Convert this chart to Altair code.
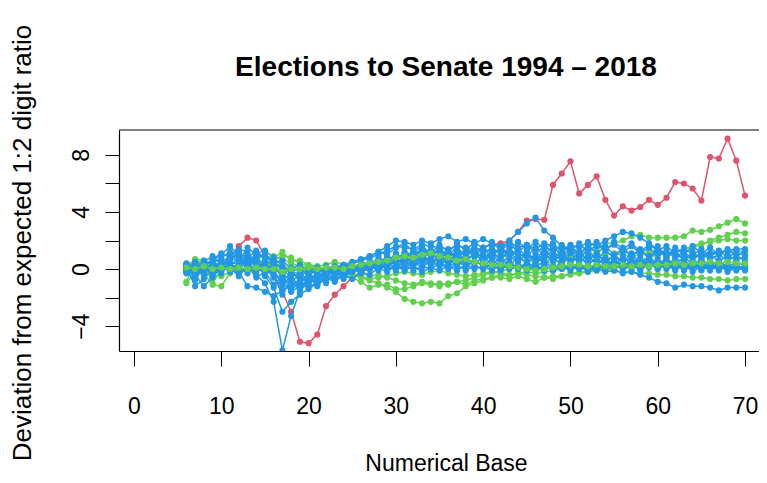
import altair as alt
import pandas as pd

# Numerical bases on the x axis
bases = list(range(6, 71))

# Deviation from expected 1:2 digit ratio, one list per election series
red_1 = [0.2, 0.0, -0.5, -0.2, 0.3,  0.8, 1.6, 2.2, 2.0, 0.9,  -0.4, -1.6, -3.0, -5.1, -5.2,
         -4.6, -2.6, -1.8, -1.2, -0.6,  -0.2, 0.0, 0.2, 0.3, 0.5,  0.6, 0.7, 0.6, 0.8, 0.9,
         1.0, 1.0, 1.2, 1.3, 1.5,  1.7, 1.8, 2.0, 2.6, 3.4,  3.5, 3.45, 5.9, 6.7, 7.55,
         5.3, 5.9, 6.5, 4.85, 3.75,  4.4, 4.1, 4.35, 4.85, 4.5,  5.0, 6.1, 6.0, 5.65, 4.8,
         7.85, 7.75, 9.15, 7.6, 5.15]

green_1 = [0.0, 0.7, 0.6, -0.2, 0.0,  0.0, -0.3, 0.0, 0.3, 0.2,  0.4, 0.2, 0.0, -0.1, 0.0,
           0.0, 0.1, 0.0, -0.2, -0.4,  -0.6, -0.8, -1.0, -1.3, -1.6,  -2.1, -2.3, -2.4, -2.3, -2.4,
           -1.9, -1.7, -1.2, -1.0, -0.8,  -0.6, -0.6, -0.7, -0.5, -0.7,  -0.9, -0.6, -0.7, -0.5, -0.3,
           -0.25, -0.1, 0.0, 0.0, 0.05,  0.2, 0.35, 0.6, 0.8, 1.0,  1.05, 1.2, 1.4, 1.6, 1.8,
           1.9, 2.0, 2.1, 2.0, 2.0]
green_2 = [-1.0, -0.2, -0.3, -1.1, -1.2,  -0.3, 0.2, 0.5, 0.7, 0.9,  0.8, 1.2, 0.6, 0.6, 0.3,
           0.2, 0.3, 0.5, 0.3, 0.2,  0.1, 0.0, 0.2, 0.3, 0.2,  0.4, 0.3, 0.5, 0.6, 0.5,
           0.6, 0.7, 0.8, 0.9, 1.0,  0.9, 1.0, 0.8, 0.7, 0.6,  0.5, 0.7, 0.9, 1.0, 1.1,
           1.1, 1.2, 1.4, 1.8, 1.8,  2.0, 2.3, 2.4, 2.2, 2.2,  2.2, 2.2, 2.3, 2.7, 2.6,
           2.75, 3.0, 3.25, 3.5, 3.2]
green_3 = [0.3, 0.6, 0.4, 0.2, 0.0,  0.1, 0.3, 0.5, 0.4, 0.6,  0.9, 0.7, 0.4, 0.2, 0.1,
           0.0, 0.1, 0.2, 0.2, 0.0,  -0.3, -0.5, -0.4, -0.6, -0.8,  -1.0, -1.1, -0.9, -1.0, -1.2,
           -1.0, -0.9, -0.8, -0.6, -0.4,  -0.3, -0.1, 0.0, 0.1, 0.2,  0.3, 0.4, 0.5, 0.6, 0.7,
           0.8, 0.9, 1.0, 1.0, 1.1,  1.0, 0.9, 1.0, 1.2, 1.1,  1.0, 1.2, 1.4, 1.5, 1.7,
           2.0, 2.2, 2.4, 2.6, 2.5]
green_4 = [-0.2, 0.3, 0.1, -0.4, -0.5,  -0.2, -0.1, 0.0, 0.2, 0.4,  0.6, 0.9, 0.8, 0.4, 0.2,
           0.1, -0.1, -0.3, -0.5, -0.6,  -0.9, -1.3, -1.1, -1.1, -1.4,  -1.4, -1.2, -1.0, -1.1, -1.0,
           -1.1, -0.9, -1.1, -0.8, -0.7,  -0.6, -0.4, -0.5, -0.3, -0.2,  -0.3, -0.2, -0.1, 0.0, 0.0,
           0.1, 0.1, 0.0, 0.0, -0.1,  -0.2, -0.2, -0.3, -0.3, -0.4,  -0.4, -0.5, -0.5, -0.6, -0.6,
           -0.7, -0.7, -0.8, -0.7, -0.7]
green_5 = [0.1, 0.0, 0.2, 0.0, 0.1,  0.0, 0.1, 0.0, 0.1, 0.0,  0.0, -0.2, 0.0, 0.0, 0.1,
           0.0, 0.1, 0.1, 0.0, 0.2,  0.3, 0.4, 0.5, 0.6, 0.8,  0.9, 0.8, 1.0, 1.1, 0.9,
           0.8, 0.6, 0.7, 0.5, 0.4,  0.3, 0.3, 0.2, 0.1, 0.0,  -0.1, 0.0, 0.1, 0.2, 0.3,
           0.3, 0.2, 0.3, 0.2, 0.2,  0.3, 0.2, 0.3, 0.2, 0.3,  0.3, 0.4, 0.3, 0.4, 0.4,
           0.5, 0.4, 0.5, 0.4, 0.4]
green_6 = [-0.9, 0.5, 0.4, -1.0, 0.0,  0.2, 0.0, -0.2, 0.3, 0.5,  0.3, 0.0, -0.2, -0.3, -0.1,
           0.0, 0.1, 0.0, -0.1, -0.3,  -0.5, -0.7, -0.6, -0.5, -0.3,  -0.2, -0.3, -0.4, -0.2, -0.1,
           -0.3, -0.4, -0.5, -0.4, -0.3,  -0.2, -0.3, -0.4, -0.3, -0.4,  -0.5, -0.6, -0.5, -0.5, -0.4,
           -0.3, -0.2, -0.1, 0.0, 0.1,  0.2, 0.3, 0.4, 0.6, 0.5,  0.5, 0.6, 0.7, 0.8, 0.9,
           1.0, 1.1, 1.2, 1.3, 1.2]

blue_1 = [0.3, -0.5, 0.0, 0.4, 0.8,  1.2, 0.9, 0.3, -0.4, -1.0,  -2.3, -5.7, -3.3, -1.5, -1.0,
          -0.6, -0.3, 0.0, 0.2, 0.4,  0.6, 0.8, 1.0, 1.3, 1.6,  1.5, 1.4, 1.7, 1.6, 1.5,
          1.4, 1.6, 1.5, 1.3, 1.4,  1.2, 1.3, 1.1, 1.0, 0.9,  0.8, 0.9, 0.7, 0.8, 0.6,
          0.7, 0.5, 0.6, 0.4, 0.5,  0.4, 0.3, 0.5, 0.3, 0.4,  0.2, 0.3, 0.1, 0.2, 0.0,
          0.1, 0.0, 0.2, 0.0, 0.1]
blue_2 = [0.0, 0.3, -0.2, 0.2, 0.5,  0.9, 1.4, 1.2, 0.4, -0.5,  -1.3, -3.0, -2.3, -1.8, -1.4,
          -1.0, -0.7, -0.5, -0.2, 0.0,  0.1, 0.3, 0.4, 0.6, 0.8,  1.0, 1.2, 1.1, 1.3, 1.2,
          1.1, 1.0, 1.2, 1.1, 0.9,  1.0, 1.4, 2.0, 2.6, 3.2,  3.6, 2.7, 2.2, 1.6, 1.2,
          1.0, 0.8, 0.9, 0.7, 0.8,  0.6, 0.7, 0.5, 0.6, 0.4,  0.5, 0.3, 0.4, 0.2, 0.3,
          0.2, 0.3, 0.1, 0.2, 0.1]
blue_3 = [-0.2, -0.8, 0.2, 0.6, 1.0,  1.6, 1.0, 0.6, 0.9, 0.2,  -0.4, -0.9, -1.6, -1.2, -0.8,
          -0.5, -0.2, 0.1, 0.3, 0.5,  0.7, 0.9, 1.2, 1.6, 2.0,  1.9, 1.7, 2.0, 1.8, 2.1,
          2.3, 1.9, 2.1, 1.8, 2.1,  1.8, 1.6, 1.9, 1.5, 1.7,  1.4, 1.8, 1.6, 1.3, 1.7,
          1.5, 1.9, 1.6, 2.0, 2.3,  2.6, 2.5, 2.2, 1.8, 1.4,  1.1, 0.9, 0.8, 0.9, 1.0,
          1.1, 1.2, 1.3, 1.4, 1.4]
blue_4 = [0.1, -1.2, -0.7, 0.0, 0.5,  0.3, -0.2, -1.2, -1.3, -1.6,  -1.9, -1.5, -1.2, -0.9, -0.6,
          -0.4, -0.3, -0.2, 0.0, 0.1,  0.0, 0.2, 0.1, 0.3, 0.2,  0.4, 0.3, 0.5, 0.3, 0.4,
          0.2, 0.4, 0.3, 0.5, 0.3,  0.2, 0.4, 0.1, 0.3, 0.2,  0.0, 0.2, -0.1, 0.1, 0.0,
          0.1, -0.1, 0.0, -0.2, -0.1,  -0.3, -0.2, -0.4, -0.6, -0.9,  -1.0, -1.3, -1.1, -1.2, -1.2,
          -1.3, -1.5, -1.3, -1.3, -1.3]
blue_5 = [0.2, 0.1, 0.5, 0.9, 0.3,  0.6, 1.1, 0.8, 1.3, 0.7,  0.2, -0.6, -1.1, -0.8, -1.3,
          -0.9, -0.5, -0.8, -0.3, -0.1,  0.2, 0.0, 0.4, 0.2, 0.6,  1.2, 0.7, 1.4, 0.8, 1.5,
          0.9, 1.6, 0.8, 1.4, 0.7,  1.3, 0.6, 1.5, 0.8, 1.2,  0.6, 1.4, 0.7, 1.3, 0.5,
          1.2, 0.6, 1.1, 0.4, 1.0,  0.5, 1.1, 0.4, 0.9, 0.3,  0.8, 0.2, 0.9, 0.3, 0.7,
          0.2, 0.6, 0.1, 0.5, 0.2]
blue_6 = [-0.3, 0.4, 0.0, -0.2, 0.6,  0.2, 0.8, 0.1, 0.6, -0.1,  0.3, -0.4, 0.1, -1.0, -0.5,
          -1.2, -0.6, -0.9, -0.4, -0.7,  -0.2, -0.4, 0.1, -0.2, 0.3,  0.0, 0.5, 0.1, 0.6, 0.2,
          0.7, 0.2, 0.8, 0.3, 0.9,  0.3, 0.8, 0.2, 0.9, 0.4,  1.0, 0.3, 0.9, 0.2, 1.1,
          0.4, 1.0, 0.3, 0.8, 0.2,  0.9, 0.3, 0.8, 0.2, 0.7,  0.1, 0.6, 0.0, 0.5, -0.1,
          0.4, 0.0, 0.3, -0.1, 0.2]
blue_7 = [0.0, -0.6, 0.3, 0.1, -0.1,  0.5, 0.3, 0.9, 0.5, 0.2,  -0.5, -1.8, -0.7, -1.6, -0.4,
          -1.1, -0.3, -0.6, 0.0, -0.2,  0.3, 0.1, 0.5, 0.8, 0.4,  0.9, 0.5, 1.1, 0.4, 1.0,
          0.5, 1.2, 0.6, 1.1, 0.5,  1.0, 0.4, 0.9, 0.5, 1.1,  0.4, 0.9, 1.3, 0.6, 1.2,
          0.7, 1.4, 0.6, 1.3, 0.8,  1.5, 0.9, 1.4, 0.7, 1.6,  0.8, 1.3, 0.6, 1.2, 0.7,
          1.1, 0.5, 1.0, 0.6, 0.9]
blue_8 = [0.4, 0.0, 0.6, 0.3, 0.0,  1.0, 0.6, 0.2, 0.8, 1.0,  0.5, 0.0, -0.6, -0.2, -0.9,
          -0.2, -1.0, -0.1, -0.7, 0.1,  -0.3, 0.2, -0.1, 0.4, 0.1,  0.7, 0.2, 0.8, 0.3, 0.9,
          0.3, 0.8, 0.1, 0.6, 0.2,  0.7, 0.1, 0.6, 0.0, 0.5,  0.1, 0.6, 0.0, 0.5, -0.1,
          0.4, -0.2, 0.5, 0.0, 0.6,  0.1, 0.5, -0.1, 0.4, 0.0,  0.4, -0.1, 0.3, -0.2, 0.2,
          -0.1, 0.3, -0.2, 0.1, -0.1]
blue_9 = [-0.1, 0.2, -0.4, 0.5, 0.2,  -0.2, 0.4, 1.0, 0.0, 0.4,  -0.2, -0.8, -0.3, -0.6, 0.0,
          -0.4, 0.2, -0.2, 0.3, 0.0,  0.5, 0.3, 0.8, 0.5, 1.1,  0.6, 1.3, 0.7, 1.2, 0.6,
          1.3, 0.7, 1.4, 0.9, 1.5,  0.8, 1.6, 1.0, 1.4, 0.9,  1.5, 1.0, 1.6, 0.9, 1.5,
          1.0, 1.7, 1.1, 1.6, 1.0,  1.4, 0.9, 1.3, 0.8, 1.2,  0.9, 1.5, 1.0, 1.6, 1.1,
          1.5, 1.0, 1.4, 0.9, 1.3]
blue_10 = [0.2, -0.3, 0.1, -0.3, 0.3,  -0.1, 0.2, -0.3, 0.3, -0.4,  0.0, -0.3, -0.9, -0.4, -1.1,
           -0.5, -0.8, -0.3, -0.5, 0.0,  -0.1, 0.1, 0.0, 0.2, -0.1,  0.3, -0.1, 0.2, 0.0, 0.4,
           0.0, 0.3, -0.1, 0.2, 0.0,  0.3, -0.1, 0.4, 0.0, 0.3,  -0.1, 0.2, 0.0, 0.3, 0.1,
           0.3, 0.0, 0.2, 0.1, 0.3,  0.0, 0.2, 0.0, 0.3, 0.1,  0.2, 0.0, 0.3, 0.1, 0.2,
           0.0, 0.2, 0.0, 0.1, 0.0]
blue_11 = [0.0, 0.5, 0.2, 0.7, 1.1,  0.8, 0.5, 1.5, 1.0, 0.9,  0.4, 0.6, 0.0, 0.3, -0.2,
           0.1, -0.3, 0.2, 0.0, 0.4,  0.6, 0.9, 1.2, 1.0, 1.5,  1.8, 1.2, 1.6, 1.1, 1.7,
           1.2, 1.8, 1.3, 1.9, 1.4,  1.9, 1.3, 1.8, 1.2, 1.7,  1.1, 1.6, 1.2, 1.7, 1.3,
           1.8, 1.2, 1.7, 1.3, 1.9,  1.4, 1.8, 1.2, 1.7, 1.3,  1.6, 1.1, 1.5, 1.0, 1.4,
           0.9, 1.3, 0.8, 1.2, 0.9]
blue_12 = [0.3, 0.0, -0.2, 0.1, -0.3,  0.4, 0.0, 0.5, -0.2, 0.1,  -0.6, -1.2, -0.4, -1.4, -0.8,
           -0.3, -0.6, 0.0, -0.3, 0.2,  0.1, 0.4, 0.2, 0.6, 0.3,  0.8, 0.4, 0.9, 0.5, 0.8,
           0.4, 1.0, 0.5, 1.1, 0.6,  1.1, 0.7, 1.2, 0.6, 1.0,  0.5, 1.1, 0.6, 1.0, 0.4,
           0.9, 0.3, 0.8, 0.2, 0.7,  0.2, 0.6, 0.1, 0.5, 0.0,  0.5, 0.1, 0.6, 0.2, 0.5,
           0.1, 0.4, 0.0, 0.3, 0.0]
blue_13 = [-0.2, 0.1, 0.4, -0.5, 0.0,  0.7, 1.2, 0.4, 1.1, 1.3,  0.8, 0.2, -0.2, 0.1, -0.5,
           0.0, -0.4, -0.1, -0.6, -0.2,  0.0, 0.6, 0.3, 0.9, 0.6,  1.1, 0.9, 1.5, 1.0, 1.3,
           0.8, 1.3, 1.0, 1.6, 1.1,  1.5, 1.1, 1.3, 1.9, 1.4,  1.9, 1.4, 1.8, 1.2, 1.6,
           1.1, 1.5, 1.9, 1.4, 1.7,  1.2, 1.6, 1.1, 1.5, 1.0,  1.3, 0.8, 1.2, 0.7, 1.1,
           0.7, 1.0, 0.6, 0.9, 0.6]
blue_14 = [0.1, -0.4, -1.2, -0.6, 0.2,  0.1, -0.5, 0.2, -0.6, -0.2,  -1.1, -0.5, -1.5, -0.9, -0.3,
           -0.8, -0.1, -0.4, 0.1, -0.2,  0.2, 0.0, 0.3, 0.0, 0.2,  -0.1, 0.2, -0.2, 0.1, -0.1,
           0.2, -0.1, 0.3, 0.0, 0.2,  -0.1, 0.3, 0.0, 0.2, -0.1,  0.3, -0.1, 0.2, 0.0, 0.3,
           0.0, 0.2, -0.1, 0.3, 0.0,  0.4, 0.0, 0.5, 0.1, 0.4,  0.0, 0.3, -0.1, 0.2, 0.0,
           0.3, -0.1, 0.2, 0.1, 0.2]

RED = "#DF536B"
GREEN = "#61D04F"
BLUE = "#2297E6"

# drawing order
series = [
    ("red_1", red_1, RED),
    ("green_1", green_1, GREEN), ("green_2", green_2, GREEN), ("green_3", green_3, GREEN),
    ("green_4", green_4, GREEN), ("green_6", green_6, GREEN),
    ("blue_1", blue_1, BLUE), ("blue_2", blue_2, BLUE), ("blue_3", blue_3, BLUE),
    ("blue_4", blue_4, BLUE), ("blue_5", blue_5, BLUE), ("blue_6", blue_6, BLUE),
    ("blue_7", blue_7, BLUE), ("blue_8", blue_8, BLUE), ("blue_9", blue_9, BLUE),
    ("blue_10", blue_10, BLUE), ("blue_11", blue_11, BLUE), ("blue_12", blue_12, BLUE),
    ("blue_13", blue_13, BLUE), ("blue_14", blue_14, BLUE),
    ("green_5", green_5, GREEN),
]

TITLE = "Elections to Senate 1994 \u2013 2018"
X_TITLE = "Numerical Base"
Y_TITLE = "Deviation from expected 1:2 digit ratio"

FONT = "Liberation Sans"
PLOT_W = 640
PLOT_H = 221

x_scale = alt.Scale(domain=[-1.72, 71.6], nice=False, zero=False)
y_scale = alt.Scale(domain=[-5.75, 9.75], nice=False, zero=False)

x_axis = alt.Axis(
    values=[0, 10, 20, 30, 40, 50, 60, 70], grid=False,
    domain=True, domainColor="black", domainWidth=1.2,
    tickSize=15, tickColor="black", tickWidth=1,
    labelFont=FONT, labelFontSize=23, labelColor="black", labelPadding=29,
    labelFlush=False, labelOverlap=False,
    title=X_TITLE, titleFont=FONT, titleFontSize=23, titleFontWeight="normal",
    titleColor="black", titleBaseline="middle", titleY=112, titleX=327,
)
y_axis = alt.Axis(
    values=[-4, -2, 0, 2, 4, 6, 8], grid=False,
    domain=True, domainColor="black", domainWidth=1.2,
    tickSize=14, tickColor="black", tickWidth=1,
    labelExpr="datum.value % 4 == 0 ? replace(format(datum.value, 'd'), '-', '\u2212') : ''",
    labelFont=FONT, labelFontSize=23, labelColor="black", labelAngle=-90,
    labelAlign="center", labelBaseline="bottom", labelPadding=12,
    labelFlush=False, labelOverlap=False,
    title=None,
)

layers = []
for name, vals, col in series:
    assert len(vals) == len(bases), name
    df = pd.DataFrame({"base": bases, "dev": vals, "series": name})
    enc = dict(
        x=alt.X("base:Q", scale=x_scale, axis=x_axis),
        y=alt.Y("dev:Q", scale=y_scale, axis=y_axis),
    )
    line = alt.Chart(df).mark_line(color=col, strokeWidth=1.5, clip=True).encode(**enc)
    pts = alt.Chart(df).mark_circle(color=col, size=38, opacity=1, clip=True).encode(**enc)
    layers += [line, pts]

# top edge of the plot frame
frame_top = alt.Chart(pd.DataFrame({"k": [0]})).mark_rule(
    color="black", strokeWidth=1.2
).encode(x=alt.value(0), x2=alt.value(PLOT_W), y=alt.value(0))
layers.append(frame_top)

# y-axis title (long, reaches above the plot frame like the R device output)
y_title = alt.Chart(pd.DataFrame({"t": [Y_TITLE]})).mark_text(
    angle=270, font=FONT, fontSize=26, color="black", align="center", baseline="middle"
).encode(x=alt.value(-96), y=alt.value(113), text="t:N")
layers.append(y_title)

# main title, centred over the plot region
main_title = alt.Chart(pd.DataFrame({"t": [TITLE]})).mark_text(
    font=FONT, fontSize=28, fontWeight="bold", color="black",
    align="center", baseline="alphabetic"
).encode(x=alt.value(327), y=alt.value(-54), text="t:N")
layers.append(main_title)

chart = alt.layer(*layers).properties(
    width=PLOT_W,
    height=PLOT_H,
    autosize=alt.AutoSizeParams(type="none"),
    padding={"left": 111, "top": 122, "right": 0, "bottom": 124},
).configure(
    background="white",
    view=alt.ViewConfig(stroke=None),
)

chart.save("out.html", embed_options={"renderer": "svg", "actions": False})
